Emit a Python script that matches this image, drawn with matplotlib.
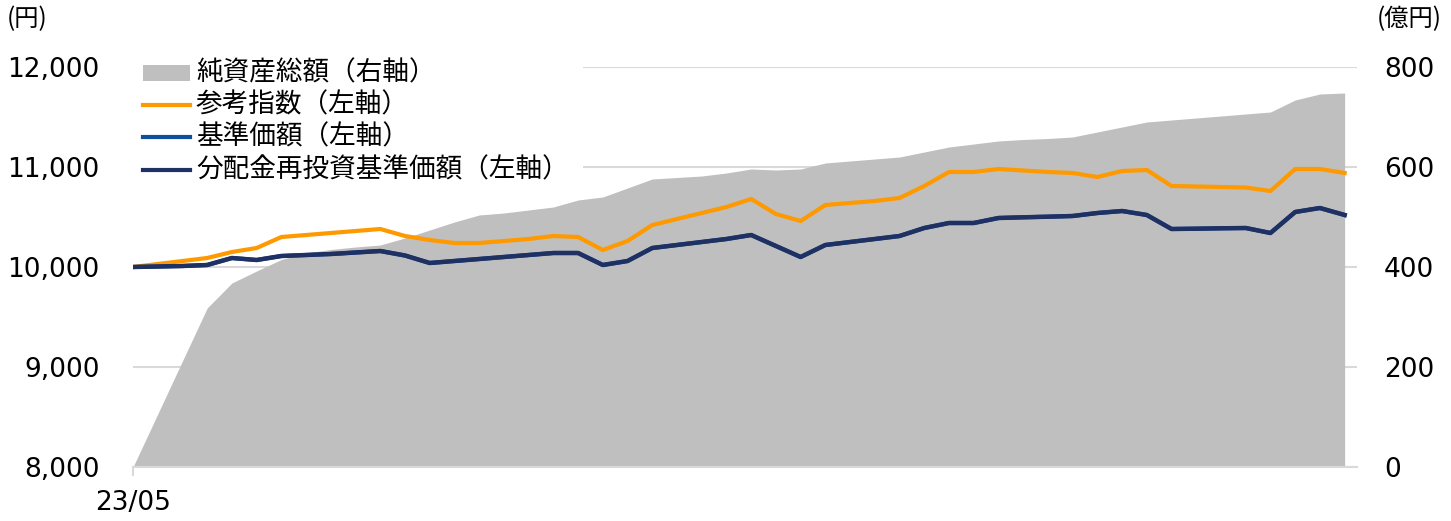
import matplotlib
matplotlib.use("Agg")
import matplotlib.pyplot as plt
from matplotlib.patches import Rectangle
from matplotlib.lines import Line2D
from matplotlib.ticker import FuncFormatter, FixedLocator

plt.rcParams['font.family'] = ['DejaVu Sans', 'Noto Sans CJK JP']

# ---------------- data (weekly points, first = 23/05) ----------------
x_tick_labels = ["23/05"]

net_assets = [0, 106, 212, 318, 368, 392, 415, 428, 435, 440,
              444, 458, 474, 490, 504, 508, 514, 520, 534, 540,
              558, 576, 579, 582, 588, 596, 594, 596, 608, 612,
              616, 620, 630, 640, 646, 652, 655, 657, 660, 670,
              680, 690, 694, 698, 702, 706, 710, 734, 746, 748]

ref_index = [10000, 10030, 10060, 10090, 10150, 10190, 10300, 10320, 10340, 10360,
             10380, 10310, 10270, 10240, 10240, 10260, 10280, 10310, 10300, 10170,
             10260, 10420, 10480, 10540, 10600, 10680, 10530, 10460, 10620, 10640,
             10660, 10690, 10810, 10950, 10950, 10980, 10965, 10950, 10940, 10900,
             10960, 10970, 10810, 10805, 10800, 10795, 10760, 10980, 10980, 10940]

nav_reinvest = [10000, 10005, 10010, 10020, 10090, 10070, 10110, 10120, 10130, 10145,
                10160, 10115, 10040, 10060, 10080, 10100, 10120, 10140, 10140, 10020,
                10060, 10190, 10220, 10250, 10280, 10320, 10210, 10100, 10220, 10250,
                10280, 10310, 10390, 10440, 10440, 10490, 10497, 10503, 10510, 10540,
                10560, 10520, 10380, 10383, 10387, 10390, 10340, 10550, 10590, 10520]

# 基準価額 is fully hidden beneath the reinvested line (no distributions)
nav = list(nav_reinvest)

left_ticks = [8000, 9000, 10000, 11000, 12000]
right_ticks = [0, 200, 400, 600, 800]

legend_labels = ["純資産総額（右軸）", "参考指数（左軸）", "基準価額（左軸）", "分配金再投資基準価額（左軸）"]

# ---------------- styling ----------------
C_AREA = '#BFBFBF'
C_ORANGE = '#FF9900'
C_BLUE = '#0F4FA0'
C_NAVY = '#1F3062'
C_GRID = '#D9D9D9'
JP = ['Noto Sans CJK JP', 'DejaVu Sans']

W, H = 1451, 521
fig = plt.figure(figsize=(W / 100, H / 100), dpi=100)
L, R, B, T = 133, 1357, 467, 67
ax = fig.add_axes([L / W, 1 - B / H, (R - L) / W, (B - T) / H])
ax2 = ax.twinx()
ax.set_zorder(2)
ax2.set_zorder(1)
ax.patch.set_visible(False)

xs = list(range(len(net_assets)))

# right axis: area + grid
ax2.fill_between(xs, 0, net_assets, color=C_AREA, lw=0, zorder=1)
ax2.set_ylim(0, 800)
ax2.yaxis.set_major_locator(FixedLocator(right_ticks))
ax2.set_axisbelow(True)
ax2.grid(axis='y', color=C_GRID, lw=1.5)
ax2.tick_params(axis='y', length=0, pad=19.5, labelsize=19)
# white box behind the legend that hides the gridlines
ax2.add_patch(Rectangle((0, 0.705), (583 - L) / (R - L), 0.31, transform=ax2.transAxes,
                        facecolor='white', edgecolor='none', zorder=0.8, clip_on=False))

# left axis: lines
ax.plot(xs, ref_index, color=C_ORANGE, lw=3, solid_joinstyle='miter', zorder=3)
ax.plot(xs, nav, color=C_BLUE, lw=3, zorder=3)
ax.plot(xs, nav_reinvest, color=C_NAVY, lw=3.2, zorder=4)
ax.set_ylim(8000, 12000)
ax.yaxis.set_major_locator(FixedLocator(left_ticks))
ax.yaxis.set_major_formatter(FuncFormatter(lambda v, p: f"{int(v):,}"))
ax.tick_params(axis='y', length=0, pad=24, labelsize=19)

ax.set_xlim(0, 49.5)
ax.set_xticks([0])
ax.set_xticklabels(x_tick_labels)
ax.tick_params(axis='x', length=6.5, width=1.5, color=C_GRID, pad=10, labelsize=19)

for a in (ax, ax2):
    for s in ('left', 'right', 'top'):
        a.spines[s].set_visible(False)
ax2.spines['bottom'].set_visible(False)
ax.spines['bottom'].set_color(C_GRID)
ax.spines['bottom'].set_linewidth(1.5)

# unit labels
fig.text(7 / W, 1 - 19 / H, "(円)", family=JP, fontsize=17.5, ha='left', va='center')
fig.text(1442 / W, 1 - 19 / H, "(億円)", family=JP, fontsize=17.5, ha='right', va='center')

# manual legend
def fx(x):
    return x / W

def fy(y):
    return 1 - y / H

rows = [73, 105, 137, 170]
fig.add_artist(Rectangle((fx(143), fy(81)), (190 - 143) / W, 16 / H, transform=fig.transFigure,
                         facecolor=C_AREA, edgecolor='none', zorder=10))
for yrow, col in zip(rows[1:], [C_ORANGE, C_BLUE, C_NAVY]):
    fig.add_artist(Line2D([fx(143), fx(190)], [fy(yrow), fy(yrow)], transform=fig.transFigure,
                          color=col, lw=3, zorder=10))
for yrow, lab in zip(rows, legend_labels):
    fig.text(fx(196), fy(yrow), lab, family=JP, fontsize=19.2, ha='left', va='center', zorder=10)

fig.savefig("out.png", dpi=100)
